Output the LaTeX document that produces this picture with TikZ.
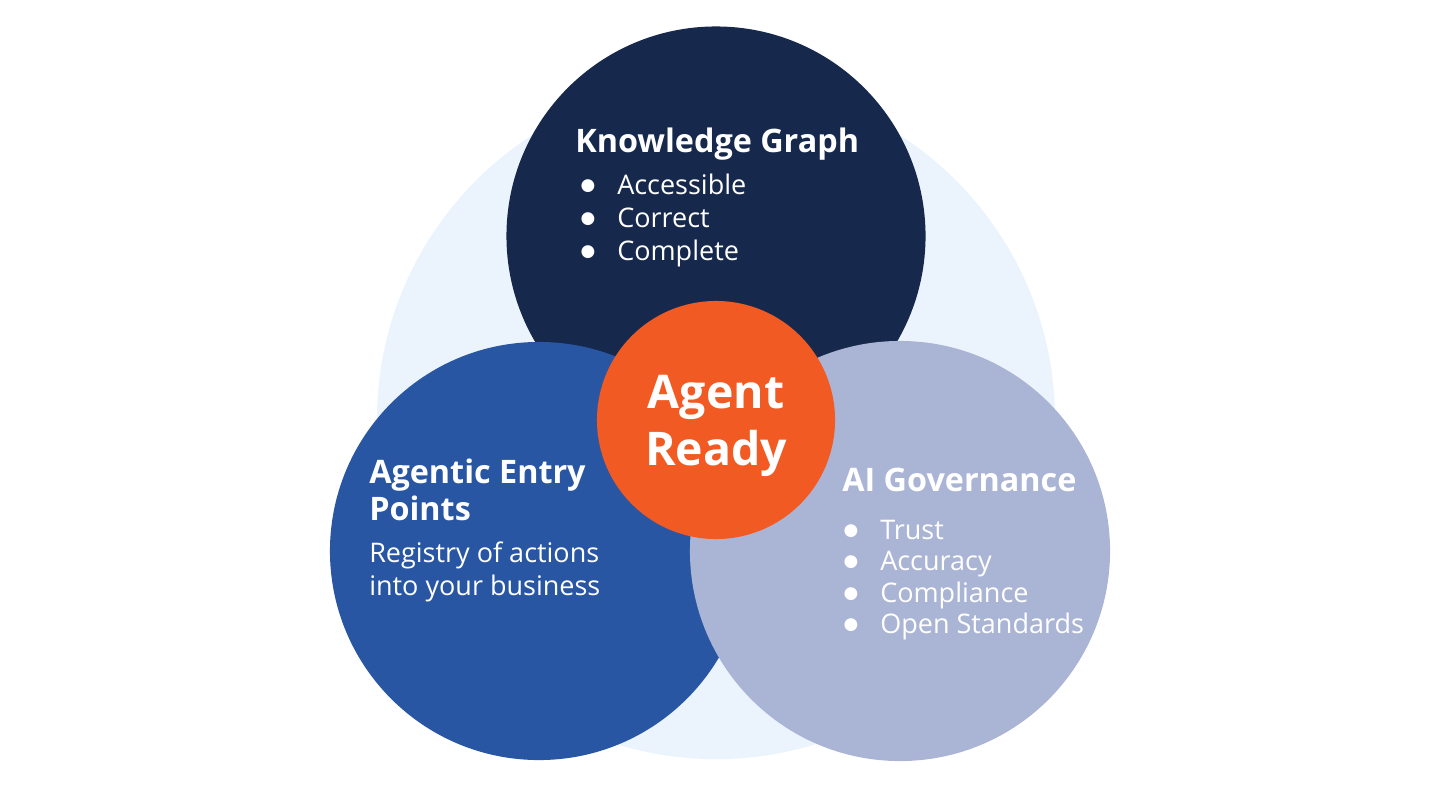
\documentclass[tikz,border=0pt]{standalone}
\usepackage{fontspec}
\setmainfont{Open Sans}
\newfontfamily\dotfont{DejaVu Sans}
\usetikzlibrary{positioning}
\definecolor{halo}{HTML}{EBF4FC}
\definecolor{navy}{HTML}{16294C}
\definecolor{royal}{HTML}{2856A3}
\definecolor{lilac}{HTML}{AAB5D5}
\definecolor{flame}{HTML}{F15A22}
\tikzstyle{disc}=[circle, inner sep=0pt
%,draw
]
\tikzstyle{head}=[anchor=base west, inner sep=0pt, text=white
,font=\fontsize{23}{28}\selectfont\bfseries
]
\tikzstyle{item}=[anchor=base west, inner sep=0pt, text=white
,font=\fontsize{19.2}{23}\selectfont
]
\tikzstyle{dot}=[anchor=base, inner sep=0pt, text=white
,font=\dotfont\fontsize{12}{12}\selectfont
]
\tikzstyle{big}=[anchor=base, inner sep=0pt, text=white
,font=\fontsize{33}{40}\selectfont\bfseries
]

\begin{document}
\begin{tikzpicture}[x=0.025cm, y=-0.025cm]
    \useasboundingbox (0,0) rectangle (1440,810);
    % The pale disc behind everything
    \node[disc, fill=halo, minimum size=16.95cm] (halo) at (716,420) {};

    % Then the three big circles, top one first
    \node[disc, fill=navy, minimum size=10.475cm] (kg) at (716,236) {};
    \node[disc, fill=royal, minimum size=10.45cm] (entry) at (539,551) {};
    \node[disc, fill=lilac, minimum size=10.5cm] (gov) at (900,551) {};
    \node[disc, fill=flame, minimum size=5.95cm] (core) at (716,420) {};

    % Headings
    \node[head] (kgtitle) at (575,152) {Knowledge Graph};
    \node[head] (entrytitle) at (369,483) {Agentic Entry};
    \node[head] (entrytitle2) at (369,520) {Points};
    \node[head] (govtitle) at (842,491) {AI Governance};

    % Bullet lists
    \foreach \y/\name/\txt in {194/kg1/Accessible, 227/kg2/Correct, 260/kg3/Complete}{
        \node[dot] (\name b) at (588,\y-4) {●};
        \node[item] (\name) at (617,\y) {\txt};
    }
    \foreach \y/\name/\txt in {539/gov1/Trust, 570/gov2/Accuracy, 602/gov3/Compliance, 633/gov4/Open Standards}{
        \node[dot] (\name b) at (851,\y-4) {●};
        \node[item] (\name) at (880,\y) {\txt};
    }
    \node[item] (entry1) at (369,562) {Registry of actions};
    \node[item] (entry2) at (369,595) {into your business};

    % Centre label
    \node[big] (agent) at (716,408) {Agent};
    \node[big] (ready) at (716,465) {Ready};
\end{tikzpicture}
\end{document}
